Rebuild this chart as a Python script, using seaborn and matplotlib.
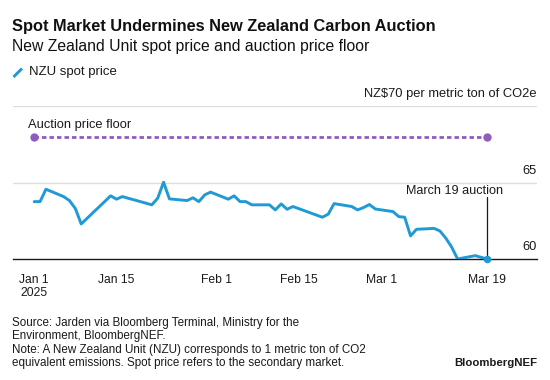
import numpy as np
import pandas as pd
import matplotlib
matplotlib.use("Agg")
import matplotlib.pyplot as plt
import matplotlib.transforms as mtransforms
from matplotlib.lines import Line2D
import seaborn as sns

# NZU spot price (NZ$/t)
dates = ["2025-01-01", "2025-01-02", "2025-01-03", "2025-01-06", "2025-01-07", "2025-01-08",
         "2025-01-09", "2025-01-10", "2025-01-13", "2025-01-14", "2025-01-15", "2025-01-16",
         "2025-01-17", "2025-01-20", "2025-01-21", "2025-01-22", "2025-01-23", "2025-01-24",
         "2025-01-27", "2025-01-28", "2025-01-29", "2025-01-30", "2025-01-31", "2025-02-03",
         "2025-02-04", "2025-02-05", "2025-02-06", "2025-02-07", "2025-02-10", "2025-02-11",
         "2025-02-12", "2025-02-13", "2025-02-14", "2025-02-17", "2025-02-18", "2025-02-19",
         "2025-02-20", "2025-02-21", "2025-02-24", "2025-02-25", "2025-02-26", "2025-02-27",
         "2025-02-28", "2025-03-03", "2025-03-04", "2025-03-05", "2025-03-06", "2025-03-07",
         "2025-03-10", "2025-03-11", "2025-03-12", "2025-03-13", "2025-03-14", "2025-03-17",
         "2025-03-18", "2025-03-19"]
spot_price = [63.75, 63.75, 64.56, 64.08, 63.82, 63.30,
              62.29, 62.66, 63.76, 64.13, 63.91, 64.08,
              63.97, 63.65, 63.54, 63.97, 65.02, 63.93,
              63.82, 64.00, 63.75, 64.19, 64.37, 63.91,
              64.13, 63.75, 63.75, 63.54, 63.54, 63.21,
              63.60, 63.25, 63.43, 63.01, 62.87, 62.73,
              62.93, 63.62, 63.43, 63.21, 63.36, 63.56,
              63.27, 63.10, 62.77, 62.73, 61.51, 61.94,
              62.00, 61.83, 61.36, 60.77, 60.00, 60.22,
              60.11, 60.00]

floor_dates = ["2025-01-01", "2025-03-19"]
floor_price = [68, 68]
auction_date = "2025-03-19"

y_grid = [60, 65, 70]
y_labels = ["60", "65", "NZ$70 per metric ton of CO2e"]
x_ticks = ["2025-01-01", "2025-01-15", "2025-02-01", "2025-02-15", "2025-03-01", "2025-03-19"]
x_labels = ["Jan 1\n2025", "Jan 15", "Feb 1", "Feb 15", "Mar 1", "Mar 19"]

df_spot = pd.DataFrame({"date": pd.to_datetime(dates), "price": spot_price})
df_floor = pd.DataFrame({"date": pd.to_datetime(floor_dates), "price": floor_price})

blue = "#1f9ad4"
purple = "#8e5dbd"
ink = "#1a1a1a"

sns.set_style("white")
plt.rcParams["font.family"] = ["Liberation Sans", "DejaVu Sans"]

W, H = 550, 380
fig = plt.figure(figsize=(W / 100, H / 100), dpi=100)
fx = lambda px: px / W
fy = lambda py: 1 - py / H
ax = fig.add_axes([fx(13), fy(259), fx(537) - fx(13), fy(106) - fy(259)])

# gridlines
for yv in y_grid[1:]:
    ax.axhline(yv, color="#dedede", lw=1, zorder=0)

sns.lineplot(data=df_floor, x="date", y="price", ax=ax, color=purple, lw=2,
             linestyle=(0, (1.6, 1.1)), marker="o", markersize=6, markeredgewidth=0, zorder=3)
sns.lineplot(data=df_spot, x="date", y="price", ax=ax, color=blue, lw=2.1, zorder=4)
ax.scatter(df_spot["date"].iloc[-1], df_spot["price"].iloc[-1], s=30, color=blue,
           zorder=5, clip_on=False, linewidths=0)

# auction marker line + label
t_auc = pd.Timestamp(auction_date)
ax.plot([t_auc, t_auc], [60, 64.05], color=ink, lw=0.9, zorder=2, clip_on=False)
ax.text(t_auc, 64.45, "March 19 auction", fontsize=9.1, color=ink, ha="right", va="center",
        transform=mtransforms.offset_copy(ax.transData, fig=fig, x=16, y=0, units="dots"))

# floor label
ax.text(pd.Timestamp(floor_dates[0]), 68, "Auction price floor", fontsize=9.3, color=ink,
        ha="left", va="center",
        transform=mtransforms.offset_copy(ax.transData, fig=fig, x=-6, y=12, units="dots"))

ax.set_xlim(pd.Timestamp("2025-01-01") - pd.Timedelta(days=3.6),
            pd.Timestamp("2025-01-01") + pd.Timedelta(days=85.5))
ax.set_ylim(60, 70)

# right-hand value labels sitting above gridlines
lab_tr = mtransforms.offset_copy(ax.get_yaxis_transform(), fig=fig, x=0, y=12, units="dots")
for yv, lab in zip(y_grid, y_labels):
    ax.text(1.0, yv, lab, transform=lab_tr, ha="right", va="center", fontsize=9.3, color=ink)

ax.set_yticks([])
ax.set_xticks(pd.to_datetime(x_ticks))
ax.set_xticklabels(x_labels)
ax.tick_params(axis="x", direction="out", length=5, width=0.9, color=ink, pad=5.5,
               labelsize=8.7, labelcolor=ink)
ax.set_xlabel("")
ax.set_ylabel("")
for s in ["left", "right", "top"]:
    ax.spines[s].set_visible(False)
ax.spines["bottom"].set_color(ink)
ax.spines["bottom"].set_linewidth(1)

# title block
fig.text(fx(12.5), fy(27), "Spot Market Undermines New Zealand Carbon Auction",
         fontsize=11.8, fontweight="bold", color="#111111", va="center")
fig.text(fx(12.5), fy(46.5), "New Zealand Unit spot price and auction price floor",
         fontsize=11.3, color="#111111", va="center")

# legend
fig.add_artist(Line2D([fx(13.5), fx(22)], [fy(77), fy(68.5)], color=blue, lw=2.1,
                      transform=fig.transFigure, solid_capstyle="butt"))
fig.text(fx(29), fy(72.5), "NZU spot price", fontsize=9.5, color=ink, va="center")

# footnotes
notes = ["Source: Jarden via Bloomberg Terminal, Ministry for the",
         "Environment, BloombergNEF.",
         "Note: A New Zealand Unit (NZU) corresponds to 1 metric ton of CO2",
         "equivalent emissions. Spot price refers to the secondary market."]
for i, line in enumerate(notes):
    fig.text(fx(12.5), fy(323.3 + i * 13.1), line, fontsize=8.4, color=ink, va="center")
fig.text(fx(537), fy(362.7), "BloombergNEF", fontsize=8.2, fontweight="bold",
         color=ink, va="center", ha="right")

fig.savefig("out.png", dpi=100)
